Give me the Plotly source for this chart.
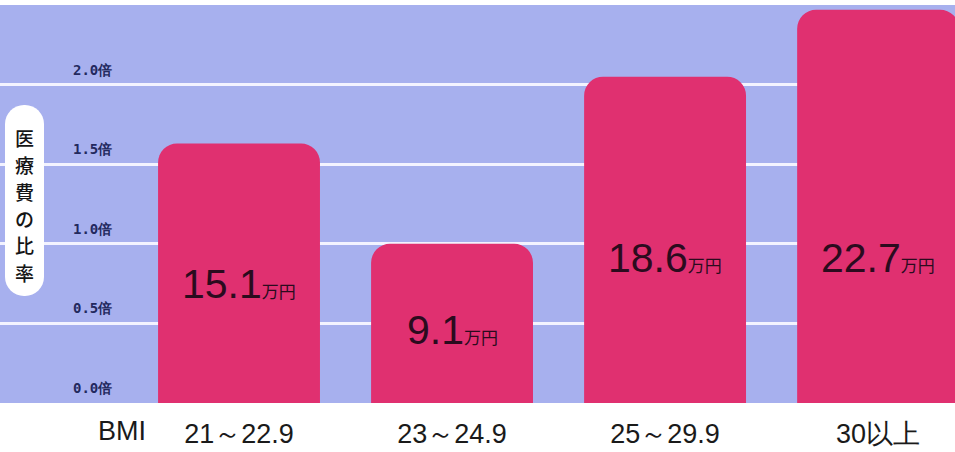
import plotly.graph_objects as go

# ---- data ----
categories = ["21～22.9", "23～24.9", "25～29.9", "30以上"]
ratios = [1.63, 1.0, 2.05, 2.47]          # medical-cost ratio (bar heights)
costs = [15.1, 9.1, 18.6, 22.7]            # 万円 labels
y_tick_vals = [0.0, 0.5, 1.0, 1.5, 2.0]
y_tick_text = ["0.0倍", "0.5倍", "1.0倍", "1.5倍", "2.0倍"]
axis_title = "医療費の比率"
x_prefix = "BMI"
unit = "万円"

# ---- layout constants ----
W, H = 955, 452
ML, MR, MT, MB = 0, 0, 5, 49
PH = H - MT - MB
BG = "#a7b0ee"
BAR = "#e03070"

x_pos = list(range(len(categories)))

fig = go.Figure()
fig.add_trace(go.Bar(
    x=x_pos, y=ratios, width=0.76,
    marker=dict(color=BAR, line=dict(width=0)),
    hoverinfo="skip",
))

def px2paper(px, py):
    return px / W, (H - MB - py) / PH

def P(px, py):
    a, b = px2paper(px, py)
    return f"{a:.5f},{b:.5f}"

# rounded pill behind the vertical y title
x0, x1, y0, y1, r = 5, 44, 105, 296, 19
k = 0.55 * r
path = (
    f"M {P(x0 + r, y0)} L {P(x1 - r, y0)} "
    f"C {P(x1 - r + k, y0)} {P(x1, y0 + r - k)} {P(x1, y0 + r)} "
    f"L {P(x1, y1 - r)} "
    f"C {P(x1, y1 - r + k)} {P(x1 - r + k, y1)} {P(x1 - r, y1)} "
    f"L {P(x0 + r, y1)} "
    f"C {P(x0 + r - k, y1)} {P(x0, y1 - r + k)} {P(x0, y1 - r)} "
    f"L {P(x0, y0 + r)} "
    f"C {P(x0, y0 + r - k)} {P(x0 + r - k, y0)} {P(x0 + r, y0)} Z"
)
fig.add_shape(type="path", path=path, xref="paper", yref="paper",
              fillcolor="white", line=dict(width=0), layer="above")

# vertical title, one character per line
for j, ch in enumerate(axis_title):
    cx, cy = px2paper(24, 137 + 27 * j)
    fig.add_annotation(
        text=ch, xref="paper", yref="paper", x=cx, y=cy,
        xanchor="center", yanchor="middle", showarrow=False, borderpad=0,
        font=dict(family="Noto Sans CJK JP", size=19, color="#151515", weight=500),
    )

# BMI prefix under the first category
bx, by = px2paper(96, 431)
fig.add_annotation(
    text=x_prefix, xref="paper", yref="paper", x=bx, y=by,
    xanchor="left", yanchor="middle", showarrow=False,
    font=dict(family="Liberation Sans", size=27, color="#1a1a1a"),
)

# value labels inside bars
for i, (v, c) in enumerate(zip(ratios, costs)):
    fig.add_annotation(
        x=i, y=min(v * 0.46, 0.91), xref="x", yref="y",
        text=(f"<span style='font-size:41px'>{c:.1f}</span>"
              f"<span style='font-size:17px;font-family:Noto Sans CJK JP'>{unit}</span>"),
        showarrow=False, xanchor="center", yanchor="middle",
        font=dict(family="Liberation Sans", size=41, color="#2b0b1e"),
    )

fig.update_layout(
    width=W, height=H,
    margin=dict(l=ML, r=MR, t=MT, b=MB),
    paper_bgcolor="white", plot_bgcolor=BG,
    showlegend=False, barcornerradius=19,
    xaxis=dict(
        range=[-1.122, 3.361], tickvals=x_pos, ticktext=categories,
        showgrid=False, zeroline=False, showline=False, ticks="",
        tickfont=dict(family="Liberation Sans", size=27, color="#1a1a1a"),
        ticklabelstandoff=12, fixedrange=True,
    ),
    yaxis=dict(
        range=[0, 2.5], tickvals=y_tick_vals, ticktext=y_tick_text,
        showgrid=True, gridcolor="#f3f3ff", gridwidth=2.5,
        zeroline=False, showline=False, ticks="",
        ticklabelposition="inside", ticklabelshift=-15, ticklabelstandoff=70,
        tickfont=dict(family="DejaVu Sans Mono", size=14, color="#23295e", weight=700),
        fixedrange=True,
    ),
)

fig.write_html("out.html")
